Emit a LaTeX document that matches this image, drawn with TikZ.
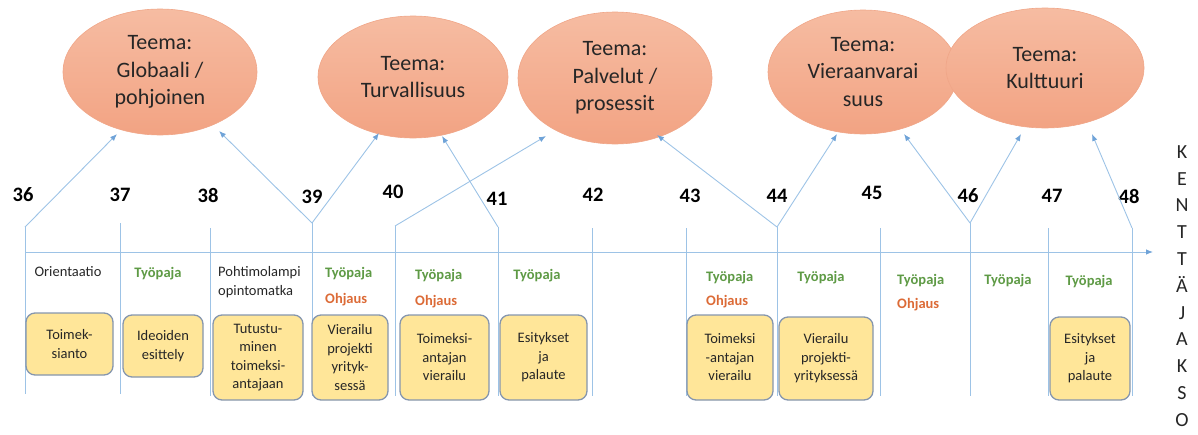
\documentclass[tikz,border=0pt]{standalone}
\usepackage{fontspec}
\setmainfont{Carlito}
\usetikzlibrary{arrows.meta,shapes.geometric}
\definecolor{ln}{HTML}{9DC3E6}
\definecolor{arrc}{HTML}{6FA3D8}
\definecolor{ellT}{HTML}{F6BCA2}
\definecolor{ellB}{HTML}{F2A383}
\definecolor{ellD}{HTML}{F0A688}
\definecolor{boxF}{HTML}{FFE699}
\definecolor{boxD}{HTML}{8596AE}
\definecolor{grn}{HTML}{5E9A45}
\definecolor{org}{HTML}{DC6B37}
\definecolor{txt}{HTML}{262626}
\begin{document}
\begin{tikzpicture}[x=1pt,y=-1pt,
 theme/.style={ellipse, draw=ellD, line width=0.6pt, top color=ellT, bottom color=ellB, inner sep=0pt, align=center, font=\fontsize{22}{27.5}\selectfont, text=txt},
 task/.style={draw=boxD, line width=1.3pt, rounded corners=9pt, fill=boxF, align=center, inner sep=0pt, font=\fontsize{14.5}{18.5}\selectfont, text=txt},
 week/.style={font=\fontsize{20.5}{24}\selectfont\bfseries, text=black, inner sep=0pt},
 plain/.style={font=\fontsize{14.5}{19}\selectfont, text=txt, inner sep=0pt, align=left},
 tyo/.style={font=\fontsize{14.5}{18}\selectfont\bfseries, text=grn, inner sep=0pt},
 ohj/.style={font=\fontsize{14.5}{18}\selectfont\bfseries, text=org, inner sep=0pt},
 wline/.style={draw=ln, line width=0.9pt},
 link/.style={draw=ln, line width=0.9pt, -{Latex[length=7pt,width=5.5pt,color=arrc]}},
]
\useasboundingbox (0,0) rectangle (1198,434);

% themes
\node[theme, minimum width=194pt, minimum height=126pt] (t1) at (160,72) {Teema:\\Globaali /\\pohjoinen};
\node[theme, minimum width=190pt, minimum height=122pt] (t2) at (413,77) {Teema:\\Turvallisuus};
\node[theme, minimum width=194pt, minimum height=132pt] (t3) at (615,78) {Teema:\\Palvelut /\\prosessit};
\node[theme, minimum width=190pt, minimum height=124pt] (t4) at (863,72) {Teema:\\Vieraanvarai\\suus};
\node[theme, minimum width=198pt, minimum height=120pt] (t5) at (1045,68) {Teema:\\Kulttuuri};

% week numbers
\node[week] (w36) at (23,195) {36};
\node[week] (w37) at (120,195) {37};
\node[week] (w38) at (208,195) {38};
\node[week] (w39) at (312,197) {39};
\node[week] (w40) at (393,192) {40};
\node[week] (w41) at (497,199) {41};
\node[week] (w42) at (593,195) {42};
\node[week] (w43) at (690,196) {43};
\node[week] (w44) at (777,196) {44};
\node[week] (w45) at (872,193) {45};
\node[week] (w46) at (968,196) {46};
\node[week] (w47) at (1052,196) {47};
\node[week] (w48) at (1129,196) {48};

% vertical line ends
\coordinate (v36t) at (25,227);  \coordinate (v36b) at (25,394);
\coordinate (v37t) at (120,223); \coordinate (v37b) at (120,394);
\coordinate (v38t) at (210,228); \coordinate (v38b) at (210,396);
\coordinate (v39t) at (312,223); \coordinate (v39b) at (312,396);
\coordinate (v40t) at (395,226); \coordinate (v40b) at (395,396);
\coordinate (v41t) at (498,227); \coordinate (v41b) at (498,396);
\coordinate (v42t) at (592,228); \coordinate (v42b) at (592,396);
\coordinate (v43t) at (686,228); \coordinate (v43b) at (686,396);
\coordinate (v44t) at (777,227); \coordinate (v44b) at (777,396);
\coordinate (v45t) at (880,228); \coordinate (v45b) at (880,396);
\coordinate (v46t) at (970,223); \coordinate (v46b) at (970,396);
\coordinate (v47t) at (1048,228);\coordinate (v47b) at (1048,396);
\coordinate (v48t) at (1132,228);\coordinate (v48b) at (1132,396);
\foreach \w in {36,...,48} {\draw[wline] (v\w t) -- (v\w b);}

% time axis
\coordinate (ax0) at (25,252);
\coordinate (ax1) at (1153,252);
\draw[link] (ax0) -- (ax1);

% arrow tips below themes
\coordinate (p36) at (117,134);
\coordinate (p39a) at (219,131);
\coordinate (p39b) at (379,133);
\coordinate (p40) at (546,136);
\coordinate (p41) at (442,136);
\coordinate (p44a) at (657,135);
\coordinate (p44b) at (837,134);
\coordinate (p46a) at (904,134);
\coordinate (p46b) at (1021,134);
\coordinate (p48) at (1092,134);
\draw[link] (v36t) -- (p36);
\draw[link] (v39t) -- (p39a);
\draw[link] (v39t) -- (p39b);
\draw[link] (v40t) -- (p40);
\draw[link] (v41t) -- (p41);
\draw[link] (v44t) -- (p44a);
\draw[link] (v44t) -- (p44b);
\draw[link] (v46t) -- (p46a);
\draw[link] (v46t) -- (p46b);
\draw[link] (v48t) -- (p48);

% labels
\node[plain] (l36) at (68,272) {Orientaatio};
\node[tyo] (g37) at (158,274) {Työpaja};
\node[plain, anchor=west] (l38) at (218,282) {Pohtimolampi\\opintomatka};
\node[tyo, anchor=west] (g39) at (325,274) {Työpaja};
\node[ohj, anchor=west] (o39) at (325,300) {Ohjaus};
\node[tyo, anchor=west] (g40) at (415,276) {Työpaja};
\node[ohj, anchor=west] (o40) at (415,302) {Ohjaus};
\node[tyo] (g41) at (537,276) {Työpaja};
\node[tyo, anchor=west] (g43) at (706,278) {Työpaja};
\node[ohj, anchor=west] (o43) at (706,302) {Ohjaus};
\node[tyo] (g44) at (821,278) {Työpaja};
\node[tyo, anchor=west] (g45) at (897,281) {Työpaja};
\node[ohj, anchor=west] (o45) at (897,305) {Ohjaus};
\node[tyo] (g46) at (1008,281) {Työpaja};
\node[tyo] (g47) at (1089,282) {Työpaja};

% task boxes
\node[task, minimum width=87pt, minimum height=62pt] (b36) at (69.5,344) {Toimek-\\sianto};
\node[task, minimum width=80pt, minimum height=62pt] (b37) at (163,346) {Ideoiden\\esittely};
\node[task, minimum width=90pt, minimum height=85pt] (b38) at (258,357.5) {Tutustu-\\minen\\toimeksi-\\antajaan};
\node[task, minimum width=76pt, minimum height=85pt] (b39) at (350,357.5) {Vierailu\\projekti\\yrityk-\\sessä};
\node[task, minimum width=89pt, minimum height=85pt] (b40) at (444.5,357.5) {Toimeksi-\\antajan\\vierailu};
\node[task, minimum width=87pt, minimum height=85pt] (b41) at (543.5,357.5) {Esitykset\\ja\\palaute};
\node[task, minimum width=86pt, minimum height=85pt] (b43) at (730,357.5) {Toimeksi\\-antajan\\vierailu};
\node[task, minimum width=94pt, minimum height=83pt] (b44) at (826,358.5) {Vierailu\\projekti-\\yrityksessä};
\node[task, minimum width=80pt, minimum height=83pt] (b47) at (1090,358.5) {Esitykset\\ja\\palaute};

% vertical title
\node[align=center, inner sep=0pt, text=txt, font=\fontsize{20}{26.8}\selectfont] (kj) at (1182,286) {K\\E\\N\\T\\T\\Ä\\J\\A\\K\\S\\O};
\end{tikzpicture}
\end{document}
